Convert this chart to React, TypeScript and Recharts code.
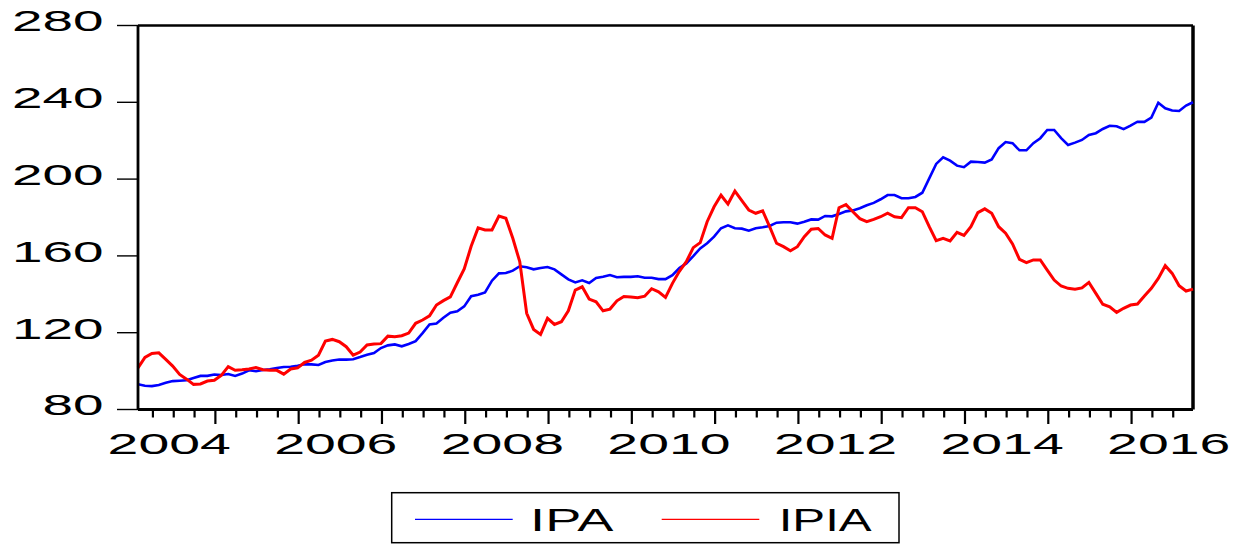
import React from 'react';
import { LineChart, Line, XAxis, YAxis, ReferenceLine, Legend } from 'recharts';

// Monthly observations, 2004M01 .. 2016M09
const ipa = [
  93.1, 92.4, 92.2, 92.8, 93.9, 94.8, 95.0, 95.2, 96.4, 97.5, 97.5, 98.2,
  98.0, 98.5, 97.5, 98.7, 100.4, 99.9, 100.6, 100.9, 101.6, 102.1, 102.3, 102.8,
  103.6, 103.5, 103.2, 104.7, 105.5, 106.0, 106.0, 106.2, 107.3, 108.5, 109.4, 112.0,
  113.4, 113.9, 112.9, 114.1, 115.6, 119.8, 124.3, 124.8, 127.8, 130.4, 131.1, 133.7,
  139.0, 139.8, 141.0, 147.1, 150.9, 151.1, 152.3, 154.6, 154.1, 153.0, 153.7, 154.2,
  153.0, 150.4, 147.8, 146.2, 147.3, 145.9, 148.5, 149.1, 150.0, 148.9, 149.1, 149.1,
  149.4, 148.6, 148.6, 147.9, 147.9, 150.0, 153.7, 156.1, 159.9, 163.9, 166.6, 170.0,
  174.4, 175.9, 174.4, 174.2, 173.1, 174.4, 174.9, 175.6, 177.3, 177.5, 177.5, 176.8,
  177.8, 179.0, 178.9, 180.8, 180.6, 181.8, 183.2, 183.7, 184.8, 186.4, 187.6, 189.5,
  191.7, 191.7, 190.0, 190.0, 190.7, 192.9, 200.4, 207.9, 211.4, 209.6, 207.0, 206.2,
  209.1, 208.9, 208.6, 210.2, 216.1, 219.3, 218.7, 215.0, 215.0, 218.7, 221.3, 225.6,
  225.6, 221.3, 217.8, 219.0, 220.4, 223.0, 223.9, 226.1, 227.8, 227.5, 226.0, 227.8,
  229.9, 229.8, 232.0, 239.8, 236.9, 235.7, 235.5, 238.3, 240.0,
];

const ipia = [
  101.7, 107.1, 109.2, 109.5, 106.1, 102.6, 98.3, 95.8, 93.1, 93.3, 94.8, 95.2,
  97.8, 102.3, 100.4, 100.7, 101.1, 101.9, 100.7, 100.4, 100.4, 98.4, 101.1, 101.7,
  104.5, 105.7, 108.3, 115.6, 116.5, 115.3, 112.7, 108.3, 109.9, 113.6, 114.1, 114.3,
  118.2, 117.9, 118.4, 119.8, 124.9, 126.6, 128.8, 134.4, 136.7, 138.7, 146.0, 153.2,
  165.0, 174.6, 173.5, 173.5, 180.8, 179.6, 169.2, 157.0, 130.1, 121.7, 119.1, 127.5,
  124.3, 125.7, 131.4, 142.2, 143.9, 137.5, 136.1, 131.4, 132.3, 136.6, 138.9, 138.6,
  138.2, 139.0, 142.9, 141.3, 138.4, 145.7, 152.0, 157.0, 164.3, 166.9, 177.8, 185.6,
  191.6, 187.0, 193.8, 188.8, 183.9, 182.2, 183.5, 175.2, 166.6, 164.8, 162.7, 164.8,
  170.0, 173.9, 174.3, 170.9, 169.2, 185.1, 186.7, 183.0, 179.4, 177.8, 179.0, 180.4,
  182.2, 180.4, 179.9, 185.1, 185.1, 183.0, 175.2, 167.9, 169.1, 167.8, 172.3, 170.7,
  175.2, 182.5, 184.5, 182.2, 175.2, 171.8, 166.2, 158.2, 156.5, 157.9, 157.9, 152.6,
  147.4, 144.3, 143.1, 142.6, 143.3, 146.2, 140.5, 134.8, 133.5, 130.6, 132.7, 134.4,
  134.9, 139.1, 143.1, 148.3, 154.9, 150.9, 144.5, 141.7, 142.7,
];

const yTicks = [80, 120, 160, 200, 240, 280];
const yearLabels = ['2004', '2006', '2008', '2010', '2012', '2014', '2016'];

const data = ipa.map((v, i) => ({ i, IPA: v, IPIA: ipia[i] }));

const lastIndex = ipa.length - 1;
// quarter boundaries (tick marks) and year label positions (in month-index units)
const quarterTicks: number[] = [];
for (let q = 1; 3 * q - 0.85 < lastIndex; q++) quarterTicks.push(3 * q - 0.85);
const labelTicks = yearLabels.map((_, k) => 24 * k + 4.5);
const xTicks = [...quarterTicks, ...labelTicks];

const FONT = '"Liberation Sans", Arial, Helvetica, sans-serif';

const XTick = (props: any) => {
  const { x, y, payload } = props;
  const v = payload.value as number;
  const li = labelTicks.findIndex((t) => Math.abs(t - v) < 1e-6);
  if (li >= 0) {
    const s = yearLabels[li];
    return (
      <text
        x={x}
        y={y + 44}
        textAnchor="middle"
        fontFamily={FONT}
        fontSize={30}
        fill="#000"
        textLength={30.8 * s.length}
        lengthAdjust="spacingAndGlyphs"
      >
        {s}
      </text>
    );
  }
  const qi = quarterTicks.findIndex((t) => Math.abs(t - v) < 1e-6);
  const isYear = (qi + 1) % 4 === 0;
  return <line x1={x} x2={x} y1={y + 1.5} y2={y + (isYear ? 14.5 : 8)} stroke="#000" strokeWidth={2.2} />;
};

const YTick = (props: any) => {
  const { x, y, payload } = props;
  const s = String(payload.value);
  return (
    <text
      x={x - 13.5}
      y={y + 5.9}
      textAnchor="end"
      fontFamily={FONT}
      fontSize={30}
      fill="#000"
      textLength={30.5 * s.length}
      lengthAdjust="spacingAndGlyphs"
    >
      {s}
    </text>
  );
};

const LegendBox = (props: any) => {
  const payload = (props.payload || []) as any[];
  const entries = [
    { lx1: 25, lx2: 122.7, tx: 140.1, tl: 83.3 },
    { lx1: 271.7, lx2: 369.3, tx: 388.7, tl: 93 },
  ];
  return (
    <svg width={512} height={54} style={{ display: 'block' }}>
      <rect x={1.7} y={1.7} width={507.3} height={50} fill="#fff" stroke="#000" strokeWidth={1.5} />
      {payload.map((p, k) => {
        const e = entries[k];
        if (!e) return null;
        return (
          <g key={String(p.value)}>
            <line x1={e.lx1} x2={e.lx2} y1={28.4} y2={28.4} stroke={p.color} strokeWidth={1.4} />
            <text
              x={e.tx}
              y={40}
              fontFamily={FONT}
              fontSize={31.7}
              fill="#000"
              textLength={e.tl}
              lengthAdjust="spacingAndGlyphs"
            >
              {p.value}
            </text>
          </g>
        );
      })}
    </svg>
  );
};

export default function App() {
  return (
    <div style={{ position: 'absolute', left: 0, top: 0, width: 1244, height: 545, background: '#fff' }}>
      <LineChart
        width={1244}
        height={545}
        data={data}
        margin={{ top: 25.5, right: 51, bottom: 0, left: 0 }}
      >
        <XAxis
          dataKey="i"
          type="number"
          domain={[0, lastIndex]}
          ticks={xTicks}
          interval={0}
          height={135.5}
          tickSize={0}
          tickMargin={0}
          tickLine={false}
          axisLine={{ stroke: '#000', strokeWidth: 3 }}
          tick={<XTick />}
        />
        <YAxis
          type="number"
          domain={[80, 280]}
          ticks={yTicks}
          interval={0}
          width={138}
          tickSize={21}
          tickMargin={0}
          tickLine={{ stroke: '#000', strokeWidth: 1.4 }}
          axisLine={{ stroke: '#000', strokeWidth: 2.8 }}
          tick={<YTick />}
        />
        <ReferenceLine y={280} stroke="#000" strokeWidth={2.4} />
        <ReferenceLine x={lastIndex} stroke="#000" strokeWidth={3.5} />
        <Line
          type="linear"
          dataKey="IPA"
          name="IPA"
          stroke="#0000FF"
          strokeWidth={2.6}
          dot={false}
          isAnimationActive={false}
        />
        <Line
          type="linear"
          dataKey="IPIA"
          name="IPIA"
          stroke="#FF0000"
          strokeWidth={3}
          dot={false}
          isAnimationActive={false}
        />
        <Legend
          layout="horizontal"
          verticalAlign="middle"
          align="center"
          content={<LegendBox />}
          wrapperStyle={{ left: 390, top: 491, width: 512, height: 54 }}
        />
      </LineChart>
    </div>
  );
}
